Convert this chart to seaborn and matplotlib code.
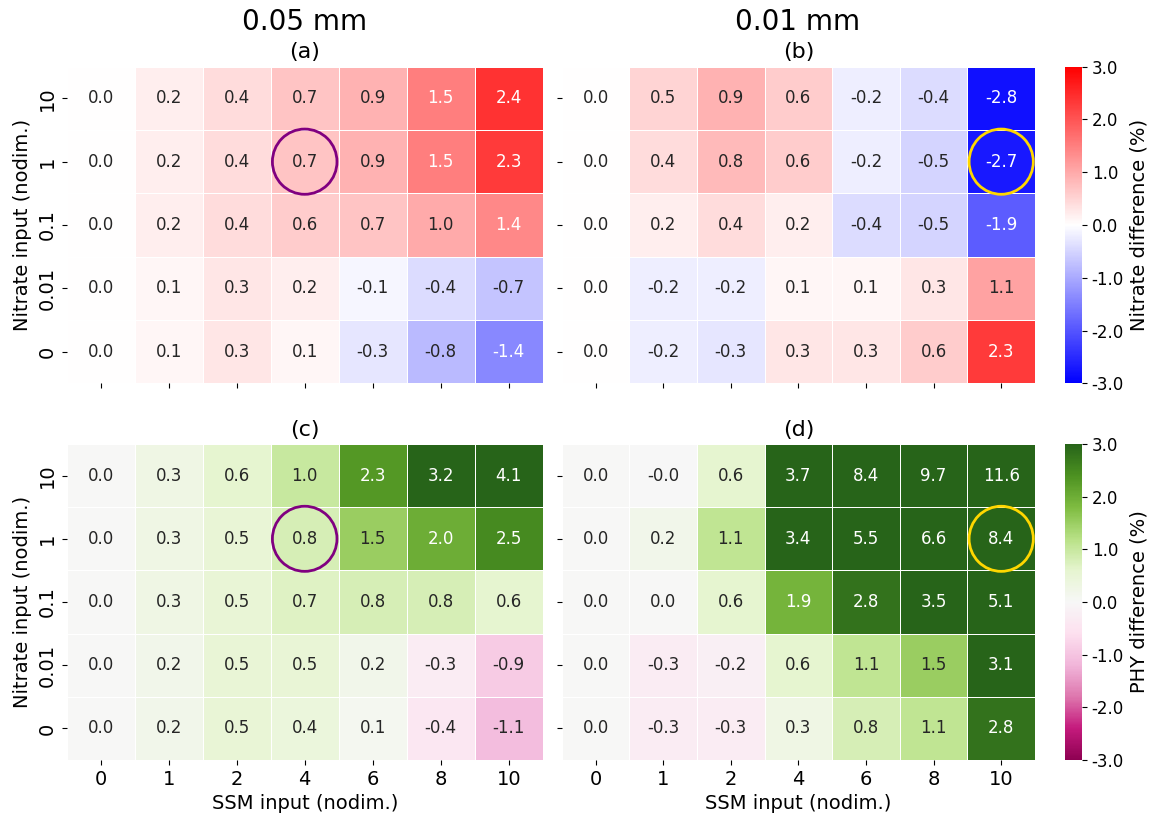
import numpy as np
import pandas as pd
import matplotlib
matplotlib.use('Agg')
import matplotlib.pyplot as plt
from matplotlib.patches import Ellipse
import seaborn as sns

# axes categories
ssm = ['0', '1', '2', '4', '6', '8', '10']
nitrate = ['10', '1', '0.1', '0.01', '0']

# nitrate difference (%) - rows follow `nitrate`, columns follow `ssm`
nit_005 = [
    [0.0, 0.2, 0.4, 0.7, 0.9, 1.5, 2.4],
    [0.0, 0.2, 0.4, 0.7, 0.9, 1.5, 2.3],
    [0.0, 0.2, 0.4, 0.6, 0.7, 1.0, 1.4],
    [0.0, 0.1, 0.3, 0.2, -0.1, -0.4, -0.7],
    [0.0, 0.1, 0.3, 0.1, -0.3, -0.8, -1.4],
]
nit_001 = [
    [0.0, 0.5, 0.9, 0.6, -0.2, -0.4, -2.8],
    [0.0, 0.4, 0.8, 0.6, -0.2, -0.5, -2.7],
    [0.0, 0.2, 0.4, 0.2, -0.4, -0.5, -1.9],
    [0.0, -0.2, -0.2, 0.1, 0.1, 0.3, 1.1],
    [0.0, -0.2, -0.3, 0.3, 0.3, 0.6, 2.3],
]

# PHY difference (%)
phy_005 = [
    [0.0, 0.3, 0.6, 1.0, 2.3, 3.2, 4.1],
    [0.0, 0.3, 0.5, 0.8, 1.5, 2.0, 2.5],
    [0.0, 0.3, 0.5, 0.7, 0.8, 0.8, 0.6],
    [0.0, 0.2, 0.5, 0.5, 0.2, -0.3, -0.9],
    [0.0, 0.2, 0.5, 0.4, 0.1, -0.4, -1.1],
]
phy_001 = [
    [0.0, -0.01, 0.6, 3.7, 8.4, 9.7, 11.6],
    [0.0, 0.2, 1.1, 3.4, 5.5, 6.6, 8.4],
    [0.0, 0.0, 0.6, 1.9, 2.8, 3.5, 5.1],
    [0.0, -0.3, -0.2, 0.6, 1.1, 1.5, 3.1],
    [0.0, -0.3, -0.3, 0.3, 0.8, 1.1, 2.8],
]

# highlighted cells (row, col) for each resolution
mark_005 = ('1', '4')
mark_001 = ('1', '10')

W, H = 1160, 817
fig = plt.figure(figsize=(W / 100, H / 100), dpi=100)


def box(x0, y0, x1, y1):
    # pixel box (top-left origin) -> figure fraction
    return [x0 / W, 1 - y1 / H, (x1 - x0) / W, (y1 - y0) / H]


ax_a = fig.add_axes(box(66.7, 66.7, 542.7, 383.3))
ax_b = fig.add_axes(box(561.7, 66.7, 1035, 383.3))
cax_top = fig.add_axes(box(1065, 66.7, 1082, 383.3))
ax_c = fig.add_axes(box(66.7, 444, 542.7, 760))
ax_d = fig.add_axes(box(561.7, 444, 1035, 760))
cax_bot = fig.add_axes(box(1065, 444, 1082, 760))

ticks = [-3, -2, -1, 0, 1, 2, 3]
panels = [
    (ax_a, nit_005, 'bwr', None, '(a)', mark_005, 'purple'),
    (ax_b, nit_001, 'bwr', cax_top, '(b)', mark_001, 'gold'),
    (ax_c, phy_005, 'PiYG', None, '(c)', mark_005, 'purple'),
    (ax_d, phy_001, 'PiYG', cax_bot, '(d)', mark_001, 'gold'),
]

for ax, vals, cmap, cax, lab, mark, mcol in panels:
    df = pd.DataFrame(vals, index=nitrate, columns=ssm)
    sns.heatmap(df, ax=ax, cmap=cmap, vmin=-3, vmax=3, center=0,
                annot=True, fmt='.1f', annot_kws={'fontsize': 12},
                linewidths=0.5, linecolor='white',
                cbar=cax is not None, cbar_ax=cax,
                cbar_kws={'ticks': ticks, 'format': '%.1f'} if cax is not None else {})
    ax.set_title(lab, fontsize=16)
    ax.set_xticklabels(ssm, fontsize=14, rotation=0)
    ax.set_yticklabels(nitrate, fontsize=14, rotation=90, va='center')
    ax.set_xlabel('')
    ax.set_ylabel('')
    r = nitrate.index(mark[0])
    c = ssm.index(mark[1])
    ax.add_patch(Ellipse((c + 0.5, r + 0.5), 0.95, 1.03, fill=False,
                         edgecolor=mcol, linewidth=2, zorder=5))

for ax in (ax_a, ax_b):
    ax.tick_params(labelbottom=False)
for ax in (ax_b, ax_d):
    ax.tick_params(labelleft=False)
for ax in (ax_a, ax_c):
    ax.set_ylabel('Nitrate input (nodim.)', fontsize=14)
for ax in (ax_c, ax_d):
    ax.set_xlabel('SSM input (nodim.)', fontsize=14)

cax_top.set_ylabel('Nitrate difference (%)', fontsize=14)
cax_bot.set_ylabel('PHY difference (%)', fontsize=14)
for cax in (cax_top, cax_bot):
    cax.tick_params(labelsize=12)

fig.text(304.7 / W, 1 - 22 / H, '0.05 mm', fontsize=20, ha='center', va='center')
fig.text(798 / W, 1 - 22 / H, '0.01 mm', fontsize=20, ha='center', va='center')

plt.savefig('out.png', dpi=100)
